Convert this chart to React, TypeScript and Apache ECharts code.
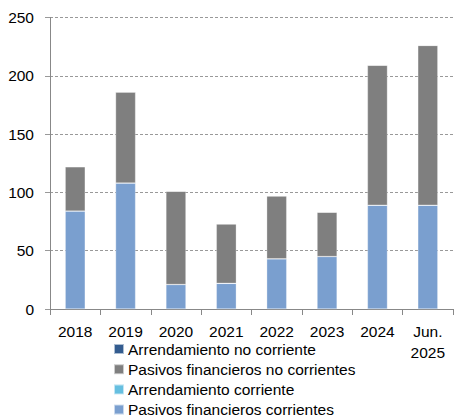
import React, { useEffect, useRef } from "react";
import * as echarts from "echarts";

const categories = ["2018", "2019", "2020", "2021", "2022", "2023", "2024", "Jun.\n2025"];
const pasivosCorrientes = [84, 108, 21, 22, 43, 45, 89, 89];
const arrendamientoCorriente = [0, 0, 0, 0, 0, 0, 0, 0];
const pasivosNoCorrientes = [38, 78, 80, 51, 54, 38, 120, 137];
const arrendamientoNoCorriente = [0, 0, 0, 0, 0, 0, 0, 0];
const yTicks = [0, 50, 100, 150, 200, 250];

const FONT = "'Liberation Sans', Arial, sans-serif";

export default function App() {
  const ref = useRef<HTMLDivElement>(null);
  useEffect(() => {
    if (!ref.current) return;
    const chart = echarts.init(ref.current, null, { renderer: "svg" });
    const barStyle = (color: string) => ({
      color,
      borderColor: "rgba(255,255,255,0.6)",
      borderWidth: 0.5,
    });
    chart.setOption({
      animation: false,
      textStyle: { fontFamily: FONT },
      grid: { left: 50, right: 1, top: 17.5, bottom: 110, containLabel: false },
      legend: {
        orient: "vertical",
        left: 113,
        top: 341,
        height: 90,
        width: 300,
        itemWidth: 10,
        itemHeight: 10,
        itemGap: 4.2,
        padding: 0,
        icon: "rect",
        textStyle: { fontFamily: FONT, fontSize: 15.5, color: "#000", lineHeight: 15, padding: [0, 0, 0, -1] },
        data: [
          "Arrendamiento no corriente",
          "Pasivos financieros no corrientes",
          "Arrendamiento corriente",
          "Pasivos financieros corrientes",
        ],
      },
      xAxis: {
        type: "category",
        data: categories,
        axisLine: { lineStyle: { color: "#888", width: 1 } },
        axisTick: { show: true, length: 6, lineStyle: { color: "#888" } },
        axisLabel: { fontFamily: FONT, fontSize: 15.5, color: "#000", margin: 12, lineHeight: 21 },
      },
      yAxis: {
        type: "value",
        min: yTicks[0],
        max: yTicks[yTicks.length - 1],
        interval: 50,
        axisLine: { show: true, lineStyle: { color: "#888", width: 1 } },
        axisTick: { show: true, length: 5, lineStyle: { color: "#999" } },
        axisLabel: { fontFamily: FONT, fontSize: 15.5, color: "#000", margin: 16 },
        splitLine: { lineStyle: { color: "#999", type: [3, 2], width: 1 } },
      },
      series: [
        {
          name: "Pasivos financieros corrientes",
          type: "bar",
          stack: "total",
          barWidth: 20,
          data: pasivosCorrientes,
          itemStyle: barStyle("#7A9FCF"),
        },
        {
          name: "Arrendamiento corriente",
          type: "bar",
          stack: "total",
          barWidth: 20,
          data: arrendamientoCorriente,
          itemStyle: barStyle("#66BFE0"),
        },
        {
          name: "Pasivos financieros no corrientes",
          type: "bar",
          stack: "total",
          barWidth: 20,
          data: pasivosNoCorrientes,
          itemStyle: barStyle("#7F7F7F"),
        },
        {
          name: "Arrendamiento no corriente",
          type: "bar",
          stack: "total",
          barWidth: 20,
          data: arrendamientoNoCorriente,
          itemStyle: barStyle("#335C8F"),
        },
      ],
    });
    return () => chart.dispose();
  }, []);
  return <div ref={ref} style={{ width: 454, height: 419, position: "absolute", left: 0, top: 0 }} />;
}
